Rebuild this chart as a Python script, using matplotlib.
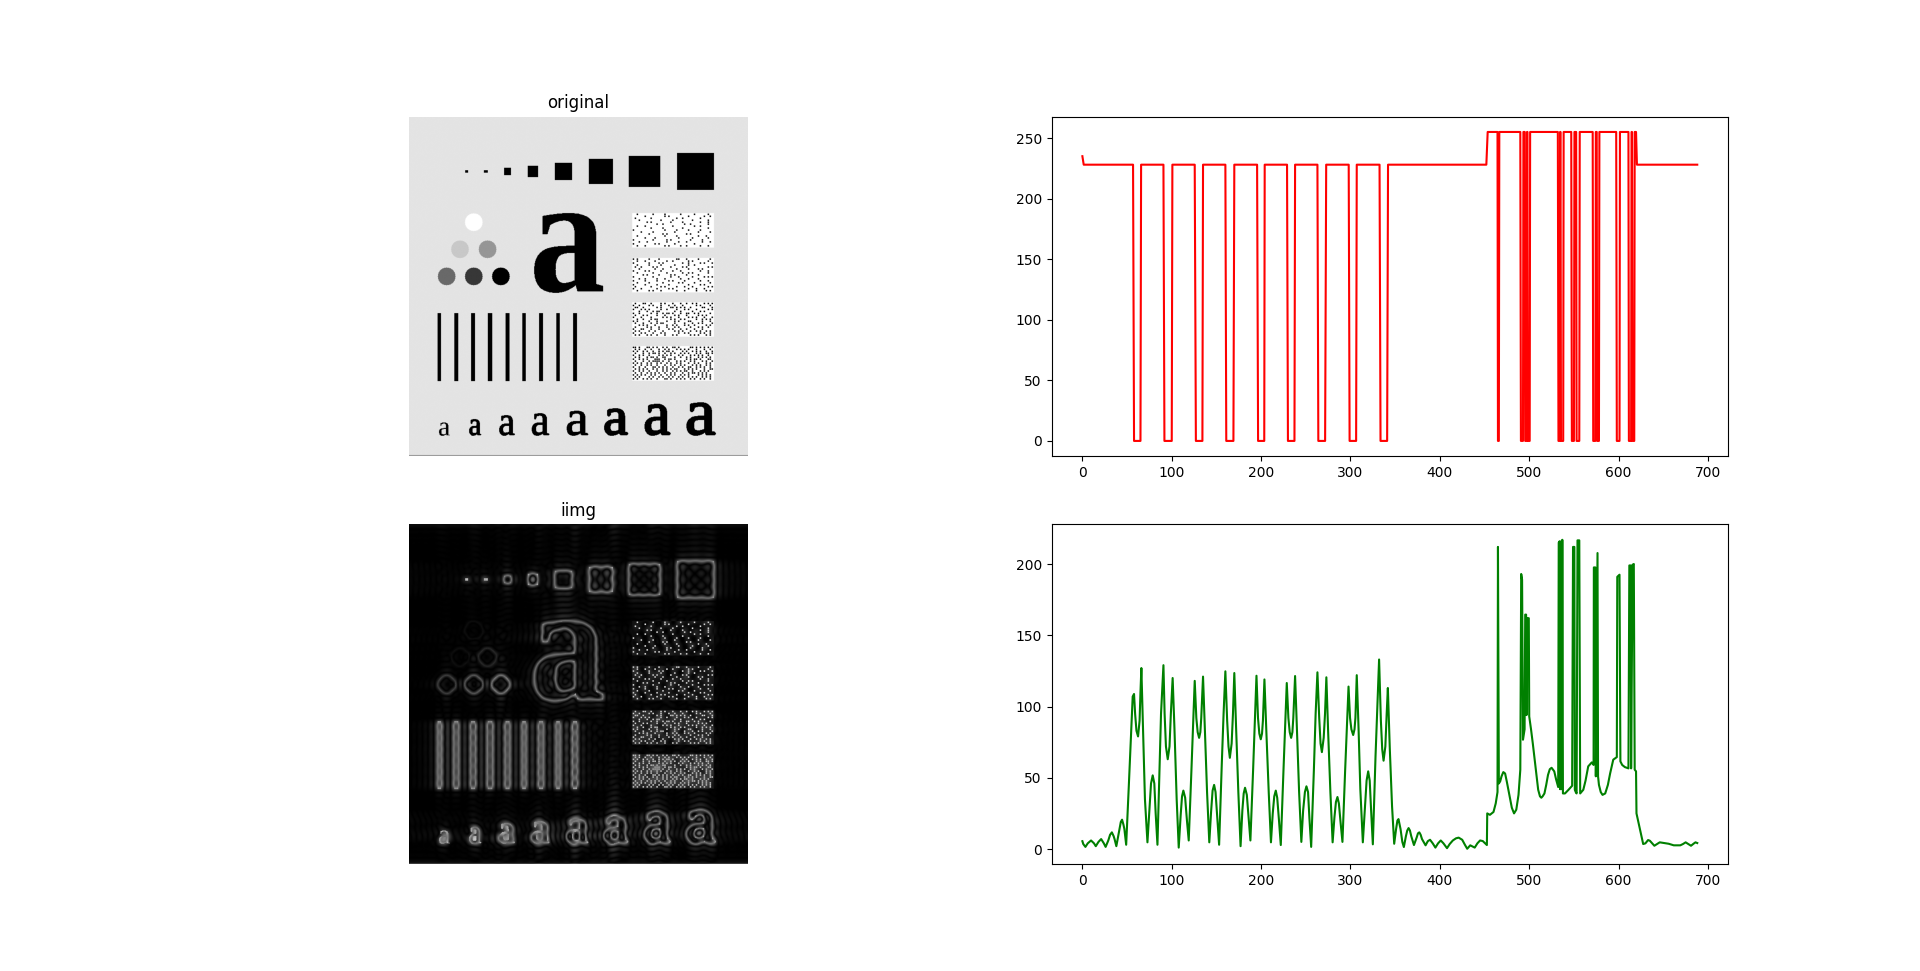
import numpy as np
import matplotlib
matplotlib.use("Agg")
import matplotlib.pyplot as plt
from matplotlib.font_manager import FontProperties
from matplotlib.path import Path
from matplotlib.textpath import TextPath
from matplotlib.transforms import Affine2D

IMG_H, IMG_W = 690, 688
BG_LEVEL = 228
MASK_HALF = 30

# (x0, x1, y0, y1) in image pixels
squares = [(114, 120, 110, 115), (152, 160, 110, 115), (193, 207, 105, 120), (241, 262, 101, 124),
           (296, 331, 95, 130), (365, 414, 87, 138), (446, 510, 81, 144), (544, 619, 75, 150)]
# (cx, cy, grey)
circles = [(131, 215, 255), (103, 270, 200), (159, 270, 150), (76, 325, 105), (131, 325, 55), (186, 325, 0)]
CIRCLE_R = 18
bars = [(58, 65), (92, 100), (126, 134), (160, 169), (196, 204), (230, 237), (264, 272), (299, 306), (333, 341)]
BAR_TOP, BAR_BOTTOM = 400, 538
# (x0, x1, y0, y1, bold, thicken)
letters = [(254, 394, 197, 359, True, 0), (61, 83, 622, 649, False, 0), (122, 147, 615, 649, False, 1),
           (183, 215, 607, 649, False, 1), (249, 285, 603, 649, False, 1), (320, 364, 598, 649, False, 1),
           (396, 445, 593, 649, False, 2), (478, 531, 584, 649, False, 2), (563, 623, 581, 649, False, 2)]
patch_tops = [197, 288, 378, 467]
PATCH_X = 453

speckle_1 = [
"..#.......#.....#.......#......#......#..",
"......#.........#.#.........#.......#..#.",
".#.......#............#..#........#......",
"...#..........#.....#.........#.......#..",
".......#.#.........#.....#........#...#..",
"............#..#..........#..#........#..",
"..#...#.............#..........#..#......",
".........#.....#.........#............#..",
"#...............#.....#.....#.....#......",
"....#.....#..........#...........#.....#.",
"........#......#.#.........#.#...........",
"..#.............#.....#..........#...#...",
"......#....#...........#......#.......#..",
"#.........#......#.#.........#.....#.....",
"...#...#.........#.....#...#.......#...#.",
"#..........#.#.......#.........#.........",
"..#...#.........#.#.....#..#......#...#..",
]
speckle_2 = [
"#.#.....#....#........##...#.....#.....#.",
"..#...#....#.....#..#.......#.#.......#..",
"#.......#....#.#.........#..#.....#.#...#",
"..#.....#.....#......#......#..#.........",
".#..#.....#.#......#.....#.#..........#.#",
"...#.......#...#......#.....#....#.#.....",
"#.....#.#.....#.....#...#.........#...#..",
"..#.......#......#.......#..#.#.......#..",
".....#.#.....#.....#.#.....#.....#.......",
"#.........#........#...#......#.....#.#.#",
"...#..#.....#...#.......#...#....#.......",
"#.....#.....#.....#.#.....#.......#...#..",
"..#.....#......#.......#.#.....#.......#.",
"#.....#.....#.....#.........#.....#.#....",
".#.......#....#.#.....#...#...#.......#.#",
"#...#.......#.....#.#.......#...#...#....",
"..#.....#.#...#.......#...#.....#....#.#.",
]
speckle_3 = [
".#...##..#....#.#...#...#..#..#.#...#.#.#",
"#..#....#.#...#...#..#...#......#.#....#.",
".##..#......#.#....##.#.#.#..#.....##...#",
"#...#.#.#.....#..#....#...#.#...#.....#.#",
"...#...#..#.##.......#..#.....#...#.#....",
"#..#.....#..#..#.##.#...#..##..#.#.....#.",
".#...#.#....#...#....#.#...#.....#.#.#...",
"#...#....#.....#.#.#...#....#.#.#...#...#",
"..#..#...#.##......#.#..#.#.....#..#.#.#.",
"#.#.....#...#....#...#.#....##.....#...#.",
".#...#...#..#.##.....#....#...#..#.#....#",
"...#.#.#...#.....#..#.#...#.#..#.....#.#.",
".#.....#.#...#...#...#.#.....#...#.#..#..",
"#...##...#...#....#.#...#..#...#...#.....",
".#.#....#..#...#.....#.#.#...#..#.#..#.#.",
"#...#.#...#...#.#......#..#.#.....#.#..#.",
".#.#...#.#..#...#...#.#......#.#.#...#.#.",
]
speckle_4 = [
"##.#...##.#.#..#.#..##.#.....##.#.#.#.#.#",
".#.#..#..#...#..#.#...#.#.#.#...#...#..#.",
"#.#..#.#..#..#.#.##.#....#.#..#.#.#..#..#",
".#...#..#.##.#..#..#.#..#.#.#...#.#..##.#",
"#..#.#..#....#.#.#.#...#.#...#.#.#.#..#..",
".#.#...#.##.#..##....#..#..#.#...#.#.#.#.",
"#..#.#.#...###..#.##.#.....#.#.##.#...##.",
".#...#..#.####.#..#...#.#.#..#.#...#.#..#",
"#.#.#..#.#..#.#..#.#..#.#...#..#.#...#.#.",
".#..#..#.#..#...#..#.#..#.#...#.#.#..#.#.",
"#..#..#...##.#.#.#..#..#.#..##..#.#.#..#.",
".#.#.#.#..#.#..#.#.#.##...#.#.#.#...#..##",
"#..#.#..#...#..#.#..#.#.#.##..#...#.#.#..",
".#..#..#.#.#.#..#..#.#...#..#.##.#.#.#...",
"#.#.#.#..#.#..#..#.#.#..#.#.#....#.#.#.#.",
".#.#....#.#..#.#..#.#..#.#..#.#.#..#.#.#.",
"#.#..#.#.#..#...##.#..#.#.#..#.#..#.#..#.",
]
speckle_blocks = [speckle_1, speckle_2, speckle_3, speckle_4]

red_x = [0, 1.5,
         56.7, 57.8, 65, 65.7, 90.7, 91.8, 100, 100.7, 125.7, 127, 134.3, 135,
         160, 161, 169, 170, 195.5, 196.6, 203.5, 204, 229, 230, 237.3, 238,
         263, 264, 271.6, 272.8, 298, 299, 306.3, 307, 332.5, 333.6, 341, 342,
         452, 453.5,
         464.5, 465, 466, 466.5, 490, 490.7, 493, 493.5,
         495, 495.5, 497, 497.5, 498, 498.5, 500.5, 501,
         532, 532.7, 534, 534.5, 535, 535.5, 538, 538.5,
         547, 547.7, 550, 550.6, 552.5, 553, 556, 556.5,
         571, 571.6, 574, 574.5, 575.5, 576, 578, 578.5,
         597.3, 598, 601, 601.5, 611, 611.5, 614, 614.5,
         615, 615.5, 617.5, 618, 619.5, 620.5, 688]
red_y = [235, 228,
         228, 0, 0, 228, 228, 0, 0, 228, 228, 0, 0, 228,
         228, 0, 0, 228, 228, 0, 0, 228, 228, 0, 0, 228,
         228, 0, 0, 228, 228, 0, 0, 228, 228, 0, 0, 228,
         228, 255,
         255, 0, 0, 255, 255, 0, 0, 255,
         255, 0, 0, 255, 255, 0, 0, 255,
         255, 0, 0, 255, 255, 0, 0, 255,
         255, 0, 0, 255, 255, 0, 0, 255,
         255, 0, 0, 255, 255, 0, 0, 255,
         255, 0, 0, 255, 255, 0, 0, 255,
         255, 0, 0, 255, 255, 228, 228]

green_x = [0, 1, 3.4, 6, 9.7, 13, 15, 18, 21, 24, 26, 29, 31, 33, 35, 36, 38,
           41, 43, 44.4, 46, 47, 49, 52, 56.3, 57.8, 59, 60.5, 62.3, 64, 65, 66,
           68, 70, 72.8, 75, 76.8, 78.7, 80.5, 82, 84, 86, 88, 90.7,
           92, 93.5, 95.5, 97.5, 99, 101, 103, 105.5, 107.8,
           110, 111.5, 113, 115, 117, 119, 122, 125.7, 127.5, 129, 130.6, 132, 133, 135,
           137, 139.5, 142, 144, 145.7, 147.4, 149, 151, 153, 156, 158, 160,
           162, 163.5, 165, 167, 168.5, 170, 172, 174.5, 177, 179, 180.5, 182,
           184, 186, 188, 191, 194.8, 196.5, 198, 199.6, 201, 202, 203.7, 206, 208.5, 211,
           213, 214.7, 216.4, 218, 220, 222, 225, 228.7, 230.5, 232, 233.6, 235, 236, 238,
           240, 242.5, 245, 247, 249, 250.7, 252.5, 254, 256, 259, 261, 263,
           265, 266.5, 268, 270, 271.5, 273, 275, 277.5, 280, 282, 283.7, 285.4,
           287, 289, 291, 294, 297.8, 299.5, 301, 303, 304.5, 305.5, 307, 309, 311, 313.8,
           316, 318, 319.8, 321.5, 323, 325, 328, 330, 332, 334, 335.5, 337,
           339, 340.5, 341.8, 344, 346.5, 348.9, 351, 352.5, 353.7, 355, 356, 358, 359.7, 362,
           363.5, 365, 366.5, 368, 371, 374, 375.5, 377, 378.5, 380, 384, 386.5, 389, 392, 395, 398, 401, 404, 408,
           411, 414.5, 418, 421, 425, 428, 430.6, 434, 439, 442, 445, 448, 452.6,
           453, 456, 460, 462.5, 464.5, 465, 466, 467.5, 469, 471, 473, 475, 478, 480.5, 483, 485.5, 488, 490,
           491, 492, 493, 494.8, 495.5, 496.5, 497, 498, 499.5, 500, 502, 504, 506, 508, 510, 512, 513.5, 515, 517, 519,
           521, 523, 525, 528, 530, 532.4, 533, 534, 534.5, 535, 535.5, 536, 536.5, 537, 537.7, 540, 544, 548,
           549, 550.5, 551, 552, 553, 554, 556, 557, 560.5, 563, 566, 570, 572,
           572.3, 574, 574.5, 576.4, 577, 578, 580, 582, 585, 588, 590.5, 594, 598,
           598.5, 601, 602, 604, 607, 611, 612, 613.5, 614, 615.6, 617, 618, 619.5, 620,
           624, 627.5, 630, 633, 635, 640, 643, 646, 651, 656, 661.7, 669, 672, 675, 678, 681, 684, 686, 688]
green_y = [5.5, 3.5, 1.5, 4, 6, 4, 2, 5, 7, 4, 1.5, 6, 10, 11.7, 9, 7, 2,
           12, 19, 20.6, 17, 14, 3, 45, 107, 108.8, 95, 83, 79, 90, 110, 127,
           80, 35, 4.7, 28, 46, 51.7, 46, 25, 3, 50, 95, 129,
           95, 72, 63, 72, 95, 120, 85, 35, 1,
           24, 37, 41, 36, 20, 6, 55, 118, 92, 82, 78, 82, 92, 121,
           85, 40, 4.7, 26, 41, 45, 40, 22, 3, 60, 95, 124.7,
           90, 72, 64, 74, 95, 123.5, 85, 40, 2, 27, 39, 43,
           38, 22, 6, 55, 121.6, 92, 81, 77, 81, 90, 119, 80, 40, 4.7,
           25, 37, 41, 36, 20, 2.8, 55, 116.5, 92, 82, 78, 82, 92, 121.4,
           85, 40, 5, 27, 40, 44, 40, 22, 1.5, 55, 95, 124,
           92, 74, 68, 78, 95, 120.5, 82, 40, 4.7, 22, 33, 36.5,
           32, 18, 5, 55, 114, 92, 84, 80, 84, 92, 122, 85, 42, 4.7,
           28, 48, 54.5, 48, 28, 3.3, 65, 100, 133, 90, 70, 62,
           72, 95, 113, 70, 30, 3.7, 14, 20, 21, 17, 14, 5, 1.4, 9,
           13, 14.7, 13, 9, 2.8, 8, 11, 11.7, 10, 7, 2.6, 5.5, 6.5, 4, 1, 4, 6, 4, 0.6,
           3.5, 6, 7.5, 8, 6.5, 3, 0.2, 2.6, 1, 4, 6, 5.6, 2.8,
           25, 24, 26, 32, 40, 212, 46, 47.5, 51, 54, 53, 47, 37, 29, 25, 27.6, 38, 55.6,
           193, 189, 76.7, 84, 164.5, 164.5, 94, 162, 162, 93, 84, 74, 63, 52, 41.6, 37, 36, 37, 39, 45,
           52, 56, 57, 54.5, 49, 43.5, 215, 216, 42, 215, 42, 216, 42, 217, 39, 39, 41.6, 44.4,
           212, 212, 41.6, 40, 39, 216.6, 216.6, 39, 41.6, 48, 58, 60.8, 59,
           197.6, 197.6, 51, 207.7, 51, 45, 40, 38, 39, 45, 53, 62.7, 64.5,
           191, 192.5, 61.5, 59, 57.5, 56.6, 199, 199, 56.6, 199.5, 200, 55.7, 54.5, 25,
           13.6, 3.5, 4, 6.3, 5.8, 2.3, 3.5, 4.7, 4.2, 3.7, 2.6, 2.6, 3.5, 4.7, 3.5, 2.3, 3.8, 4.7, 4.2]


def letter_mask(x0, x1, y0, y1, bold, thicken):
    fp = FontProperties(family="Liberation Serif", weight="bold" if bold else "normal")
    tp = TextPath((0, 0), "a", size=100, prop=fp)
    ext = tp.get_extents()
    tr = (Affine2D().translate(-ext.x0, -ext.y1)
          .scale((x1 - x0 - 2 * thicken) / ext.width, -(y1 - y0 - 2 * thicken) / ext.height)
          .translate(x0 + thicken, y0 + thicken))
    path = tp.transformed(tr)
    xs = np.arange(x0, x1)
    ys = np.arange(y0, y1)
    gx, gy = np.meshgrid(xs + 0.5, ys + 0.5)
    pts = np.column_stack([gx.ravel(), gy.ravel()])
    inside = np.zeros(len(pts), dtype=bool)
    for poly in path.to_polygons(closed_only=True):
        inside ^= Path(poly).contains_points(pts)
    inside = inside.reshape(gx.shape)
    for _ in range(thicken):
        grown = inside.copy()
        grown[1:, :] |= inside[:-1, :]
        grown[:-1, :] |= inside[1:, :]
        grown[:, 1:] |= inside[:, :-1]
        grown[:, :-1] |= inside[:, 1:]
        inside = grown
    return xs, ys, inside


def build_image():
    im = np.full((IMG_H, IMG_W), float(BG_LEVEL))
    for x0, x1, y0, y1 in squares:
        im[y0:y1, x0:x1] = 0
    yy, xx = np.mgrid[:IMG_H, :IMG_W]
    for cx, cy, g in circles:
        im[(xx - cx) ** 2 + (yy - cy) ** 2 <= CIRCLE_R ** 2] = g
    for x0, x1 in bars:
        im[BAR_TOP:BAR_BOTTOM, x0:x1] = 0
    for spec in letters:
        xs, ys, inside = letter_mask(*spec)
        region = im[ys[0]:ys[-1] + 1, xs[0]:xs[-1] + 1]
        region[inside] = 0
    for top, block in zip(patch_tops, speckle_blocks):
        im[top:top + 70, PATCH_X:PATCH_X + 166] = 255
        for r, row in enumerate(block):
            for c, ch in enumerate(row):
                if ch == "#":
                    y, x = top + 1 + r * 4, PATCH_X + 1 + c * 4
                    im[y:y + 3, x:x + 3] = 0
    im[-2:, :] = 150
    return im


def high_pass(im):
    f = np.fft.fftshift(np.fft.fft2(im))
    cy, cx = IMG_H // 2, IMG_W // 2
    f[cy - MASK_HALF:cy + MASK_HALF, cx - MASK_HALF:cx + MASK_HALF] = 0
    return np.abs(np.fft.ifft2(np.fft.ifftshift(f)))


original = build_image()
iimg = high_pass(original)

fig = plt.figure(figsize=(19.2, 9.71), dpi=100)

ax = plt.subplot(2, 2, 1)
ax.imshow(original, cmap="gray", vmin=0, vmax=255)
ax.set_title("original")
ax.axis("off")

ax = plt.subplot(2, 2, 2)
ax.plot(red_x, red_y, color="red")

ax = plt.subplot(2, 2, 3)
ax.imshow(iimg, cmap="gray")
ax.set_title("iimg")
ax.axis("off")

ax = plt.subplot(2, 2, 4)
ax.plot(green_x, green_y, color="green")

fig.savefig("out.png", dpi=100)
